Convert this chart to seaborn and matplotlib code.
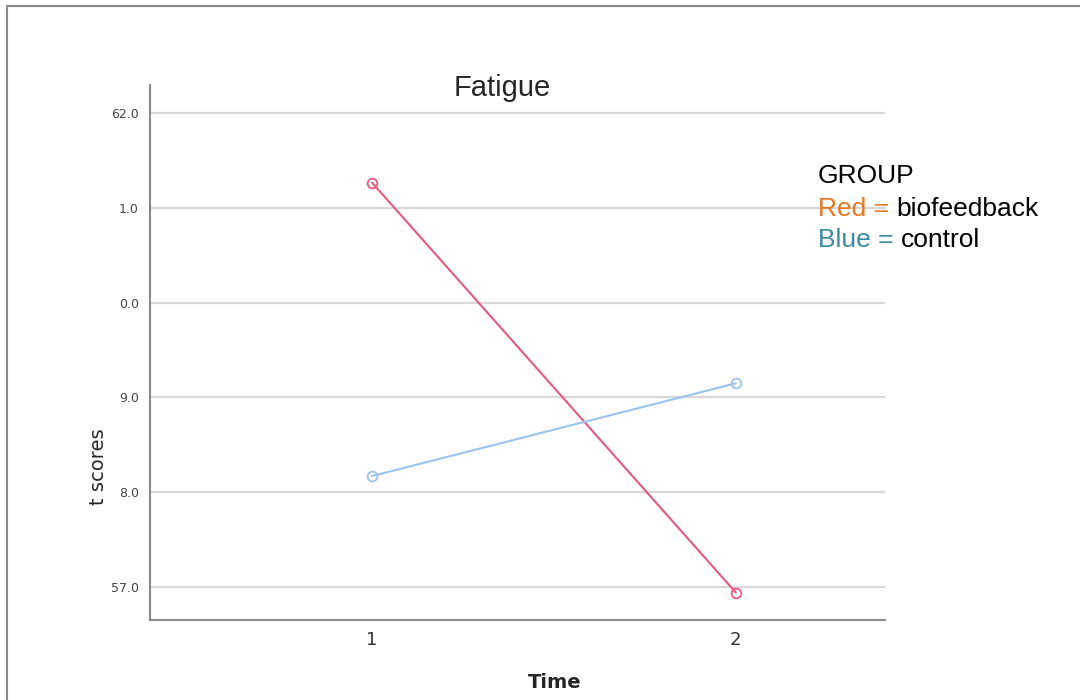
import pandas as pd
import matplotlib
matplotlib.use("Agg")
import matplotlib.pyplot as plt
import seaborn as sns
from matplotlib.lines import Line2D

sns.set_theme(style="white")
plt.rcParams['font.family'] = ['DejaVu Sans']

# datos
time = [1, 2]
biofeedback = [61.27, 56.94]
control = [58.17, 59.15]
y_ticks = [57, 58, 59, 60, 61, 62]
y_ticklabels = ["57.0", "8.0", "9.0", "0.0", "1.0", "62.0"]  # como aparecen (recortadas)

df = pd.DataFrame({
    'Time': time + time,
    'score': biofeedback + control,
    'GROUP': ['biofeedback'] * 2 + ['control'] * 2,
})

fig = plt.figure(figsize=(10.8, 7), dpi=100)
ax = fig.add_axes([150 / 1080, 1 - 620 / 700, 735 / 1080, 535 / 700])

sns.lineplot(data=df, x='Time', y='score', hue='GROUP',
             palette={'biofeedback': '#e9587e', 'control': '#9cc3ee'},
             marker='o', markersize=7, linewidth=1.5, legend=False, ax=ax)
# circulos huecos del color de cada linea
for ln in ax.lines:
    ln.set_markerfacecolor('none')
    ln.set_markeredgecolor(ln.get_color())
    ln.set_markeredgewidth(1.3)

ax.set_xlim(0.39, 2.41)
ax.set_ylim(56.65, 62.3)
ax.set_xticks(time)
ax.set_xticklabels(['1', '2'], fontsize=13, color='#333333')
ax.set_yticks(y_ticks)
ax.set_yticklabels(y_ticklabels, fontsize=9, color='#444444')
ax.tick_params(length=0, pad=8)
ax.yaxis.grid(True, color='#d8d8d8', linewidth=1.6)
ax.set_axisbelow(True)
for s in ['top', 'right']:
    ax.spines[s].set_visible(False)
for s in ['left', 'bottom']:
    ax.spines[s].set_color('#8a8a8a')
    ax.spines[s].set_linewidth(1.5)
ax.set_xlabel('')
ax.set_ylabel('')

# titulos y etiquetas
fig.text(502 / 1080, 1 - 88 / 700, 'Fatigue', fontsize=21, ha='center', va='center',
         family='Liberation Sans')
fig.text(98 / 1080, 1 - 467 / 700, 't scores', fontsize=14, rotation=90,
         ha='center', va='center')
fig.text(555 / 1080, 1 - 682 / 700, 'Time', fontsize=14, fontweight='bold',
         ha='center', va='center')

# leyenda como texto
lf = dict(fontsize=19, family='Liberation Sans')
fig.text(818 / 1080, 1 - 183 / 700, 'GROUP', color='black', va='baseline', **lf)
t1 = fig.text(818 / 1080, 1 - 216 / 700, 'Red = ', color='#e8761f', va='baseline', **lf)
ax.annotate('biofeedback', xy=(1, 0), xycoords=t1, color='black', ha='left', va='bottom', **lf)
t2 = fig.text(818 / 1080, 1 - 247 / 700, 'Blue = ', color='#3a8ca6', va='baseline', **lf)
ax.annotate('control', xy=(1, 0), xycoords=t2, color='black', ha='left', va='bottom', **lf)

# marco
fig.add_artist(Line2D([7 / 1080, 7 / 1080], [0, 1 - 6 / 700], transform=fig.transFigure,
                      color='#8a8a8a', linewidth=1.5))
fig.add_artist(Line2D([7 / 1080, 1], [1 - 6 / 700, 1 - 6 / 700], transform=fig.transFigure,
                      color='#8a8a8a', linewidth=1.5))

plt.savefig('out.png', dpi=100)
